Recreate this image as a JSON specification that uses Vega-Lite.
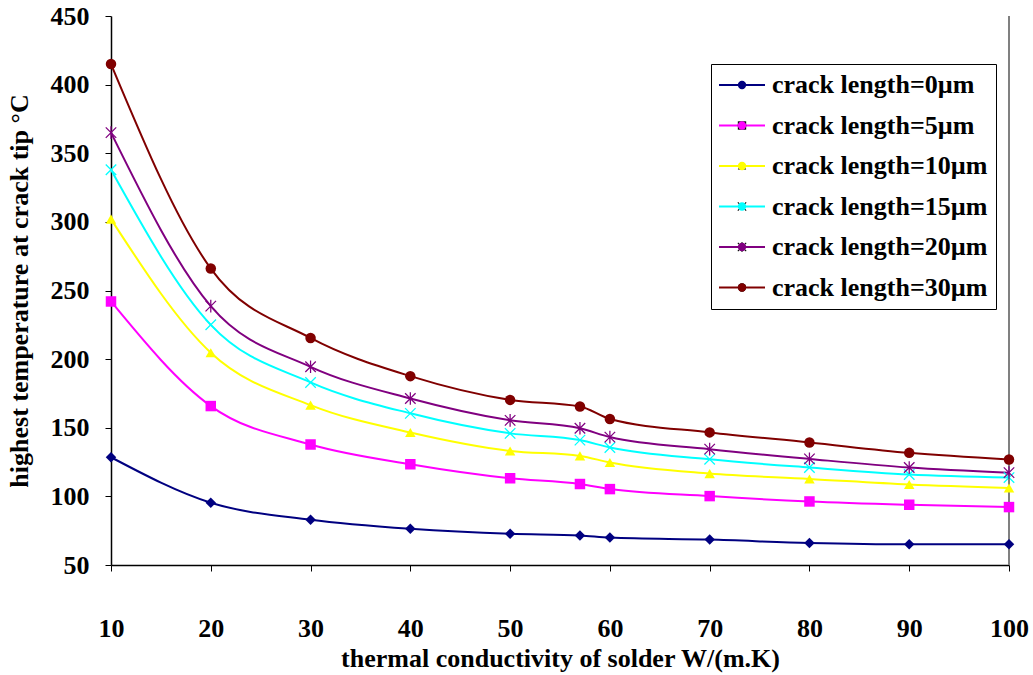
{
  "$schema": "https://vega.github.io/schema/vega-lite/v6.json",
  "width": 898,
  "height": 549,
  "autosize": "none",
  "padding": {"left": 111, "top": 16, "right": 24, "bottom": 110},
  "background": "white",
  "config": {
    "view": {"stroke": null},
    "axis": {
      "labelFont": "Liberation Serif", "labelFontWeight": "bold", "labelFontSize": 26, "labelColor": "black",
      "titleFont": "Liberation Serif", "titleFontWeight": "bold", "titleFontSize": 26, "titleColor": "black",
      "domainColor": "black", "domainWidth": 1.5, "tickColor": "black", "tickSize": 6, "grid": false, "labelFlush": false
    },
    "legend": {
      "labelFont": "Liberation Serif", "labelFontWeight": "bold", "labelFontSize": 26, "labelColor": "black", "labelLimit": 400
    }
  },
  "data": {
    "values": [
      {"k": 10, "T": 128.5, "s": "crack length=0µm"},
      {"k": 20, "T": 95.4, "s": "crack length=0µm"},
      {"k": 30, "T": 83, "s": "crack length=0µm"},
      {"k": 40, "T": 76.4, "s": "crack length=0µm"},
      {"k": 50, "T": 72.7, "s": "crack length=0µm"},
      {"k": 57, "T": 71.5, "s": "crack length=0µm"},
      {"k": 60, "T": 70, "s": "crack length=0µm"},
      {"k": 70, "T": 68.5, "s": "crack length=0µm"},
      {"k": 80, "T": 66.1, "s": "crack length=0µm"},
      {"k": 90, "T": 65.1, "s": "crack length=0µm"},
      {"k": 100, "T": 65.1, "s": "crack length=0µm"},
      {"k": 10, "T": 242, "s": "crack length=5µm"},
      {"k": 20, "T": 165.8, "s": "crack length=5µm"},
      {"k": 30, "T": 137.8, "s": "crack length=5µm"},
      {"k": 40, "T": 123.4, "s": "crack length=5µm"},
      {"k": 50, "T": 113.2, "s": "crack length=5µm"},
      {"k": 57, "T": 109, "s": "crack length=5µm"},
      {"k": 60, "T": 105.3, "s": "crack length=5µm"},
      {"k": 70, "T": 100.2, "s": "crack length=5µm"},
      {"k": 80, "T": 96.3, "s": "crack length=5µm"},
      {"k": 90, "T": 93.9, "s": "crack length=5µm"},
      {"k": 100, "T": 92.2, "s": "crack length=5µm"},
      {"k": 10, "T": 302, "s": "crack length=10µm"},
      {"k": 20, "T": 204.7, "s": "crack length=10µm"},
      {"k": 30, "T": 166.5, "s": "crack length=10µm"},
      {"k": 40, "T": 146.5, "s": "crack length=10µm"},
      {"k": 50, "T": 133.1, "s": "crack length=10µm"},
      {"k": 57, "T": 129.5, "s": "crack length=10µm"},
      {"k": 60, "T": 124.7, "s": "crack length=10µm"},
      {"k": 70, "T": 116.6, "s": "crack length=10µm"},
      {"k": 80, "T": 112.7, "s": "crack length=10µm"},
      {"k": 90, "T": 108.6, "s": "crack length=10µm"},
      {"k": 100, "T": 106.1, "s": "crack length=10µm"},
      {"k": 10, "T": 338, "s": "crack length=15µm"},
      {"k": 20, "T": 225, "s": "crack length=15µm"},
      {"k": 30, "T": 183, "s": "crack length=15µm"},
      {"k": 40, "T": 160.5, "s": "crack length=15µm"},
      {"k": 50, "T": 145.9, "s": "crack length=15µm"},
      {"k": 57, "T": 141, "s": "crack length=15µm"},
      {"k": 60, "T": 135.6, "s": "crack length=15µm"},
      {"k": 70, "T": 127, "s": "crack length=15µm"},
      {"k": 80, "T": 121, "s": "crack length=15µm"},
      {"k": 90, "T": 115.9, "s": "crack length=15µm"},
      {"k": 100, "T": 113.7, "s": "crack length=15µm"},
      {"k": 10, "T": 365, "s": "crack length=20µm"},
      {"k": 20, "T": 238.6, "s": "crack length=20µm"},
      {"k": 30, "T": 194.4, "s": "crack length=20µm"},
      {"k": 40, "T": 171.3, "s": "crack length=20µm"},
      {"k": 50, "T": 155.4, "s": "crack length=20µm"},
      {"k": 57, "T": 149.6, "s": "crack length=20µm"},
      {"k": 60, "T": 143.2, "s": "crack length=20µm"},
      {"k": 70, "T": 134.4, "s": "crack length=20µm"},
      {"k": 80, "T": 127.3, "s": "crack length=20µm"},
      {"k": 90, "T": 121, "s": "crack length=20µm"},
      {"k": 100, "T": 117.3, "s": "crack length=20µm"},
      {"k": 10, "T": 415, "s": "crack length=30µm"},
      {"k": 20, "T": 266, "s": "crack length=30µm"},
      {"k": 30, "T": 215.4, "s": "crack length=30µm"},
      {"k": 40, "T": 187.6, "s": "crack length=30µm"},
      {"k": 50, "T": 170.3, "s": "crack length=30µm"},
      {"k": 57, "T": 165.5, "s": "crack length=30µm"},
      {"k": 60, "T": 156.4, "s": "crack length=30µm"},
      {"k": 70, "T": 146.6, "s": "crack length=30µm"},
      {"k": 80, "T": 139.3, "s": "crack length=30µm"},
      {"k": 90, "T": 131.7, "s": "crack length=30µm"},
      {"k": 100, "T": 126.9, "s": "crack length=30µm"}
    ]
  },
  "encoding": {
    "x": {
      "field": "k", "type": "quantitative",
      "scale": {"domain": [10, 100], "nice": false, "zero": false},
      "axis": {"values": [10, 20, 30, 40, 50, 60, 70, 80, 90, 100], "labelPadding": 44, "titlePadding": 4, "title": "thermal conductivity of solder W/(m.K)"}
    },
    "y": {
      "field": "T", "type": "quantitative",
      "scale": {"domain": [50, 450], "nice": false, "zero": false},
      "axis": {"values": [50, 100, 150, 200, 250, 300, 350, 400, 450], "labelPadding": 16, "titlePadding": 18, "title": "highest temperature at crack tip °C"}
    }
  },
  "layer": [
    {
      "mark": {"type": "rule", "color": "#808080", "strokeWidth": 1.5},
      "encoding": {"x": {"datum": 100}, "y": null}
    },
    {
      "mark": {"type": "line", "interpolate": "monotone", "strokeWidth": 2},
      "encoding": {
        "stroke": {
          "field": "s", "type": "nominal",
          "scale": {
            "domain": ["crack length=0µm", "crack length=5µm", "crack length=10µm", "crack length=15µm", "crack length=20µm", "crack length=30µm"],
            "range": ["#000080", "#FF00FF", "#FFFF00", "#00FFFF", "#800080", "#800000"]
          },
          "legend": {
            "title": null, "orient": "none", "legendX": 600, "legendY": 48,
            "symbolType": "M-2.826,0H7.174", "symbolSize": 84.64, "symbolStrokeWidth": 2,
            "padding": 8, "labelOffset": 27, "rowPadding": 14.5,
            "strokeColor": "black", "fillColor": "white", "zindex": 1
          }
        }
      }
    },
    {
      "transform": [{"calculate": "datum.s", "as": "m"}],
      "mark": {"type": "point", "filled": true, "opacity": 1, "size": 110},
      "encoding": {
        "fill": {
          "field": "m", "type": "nominal",
          "sort": ["crack length=0µm", "crack length=5µm", "crack length=10µm", "crack length=15µm", "crack length=20µm", "crack length=30µm"],
          "scale": {
            "range": ["#000080", "#FF00FF", "#FFFF00", "#00FFFF", "#800080", "#800000"]
          },
          "legend": {
            "title": null, "orient": "none", "legendX": 610, "legendY": 48,
            "symbolSize": 70, "symbolOpacity": 1,
            "padding": 8, "labelOffset": 7, "rowPadding": 14.5, "labelExpr": "''",
            "zindex": 2
          }
        },
        "shape": {
          "field": "m", "type": "nominal",
          "sort": ["crack length=0µm", "crack length=5µm", "crack length=10µm", "crack length=15µm", "crack length=20µm", "crack length=30µm"],
          "scale": {
            "range": ["diamond", "square", "triangle-up",
              "M-0.915,-1.085L1.085,0.915L0.915,1.085L-1.085,-0.915ZM-1.085,0.915L0.915,-1.085L1.085,-0.915L-0.915,1.085Z",
              "M-0.915,-1.085L1.085,0.915L0.915,1.085L-1.085,-0.915ZM-1.085,0.915L0.915,-1.085L1.085,-0.915L-0.915,1.085ZM-0.12,-1.2L0.12,-1.2L0.12,1.2L-0.12,1.2Z",
              "circle"]
          },
          "legend": {
            "title": null, "orient": "none", "legendX": 610, "legendY": 48,
            "symbolSize": 70, "symbolOpacity": 1,
            "padding": 8, "labelOffset": 7, "rowPadding": 14.5, "labelExpr": "''",
            "zindex": 2
          }
        }
      }
    }
  ]
}
